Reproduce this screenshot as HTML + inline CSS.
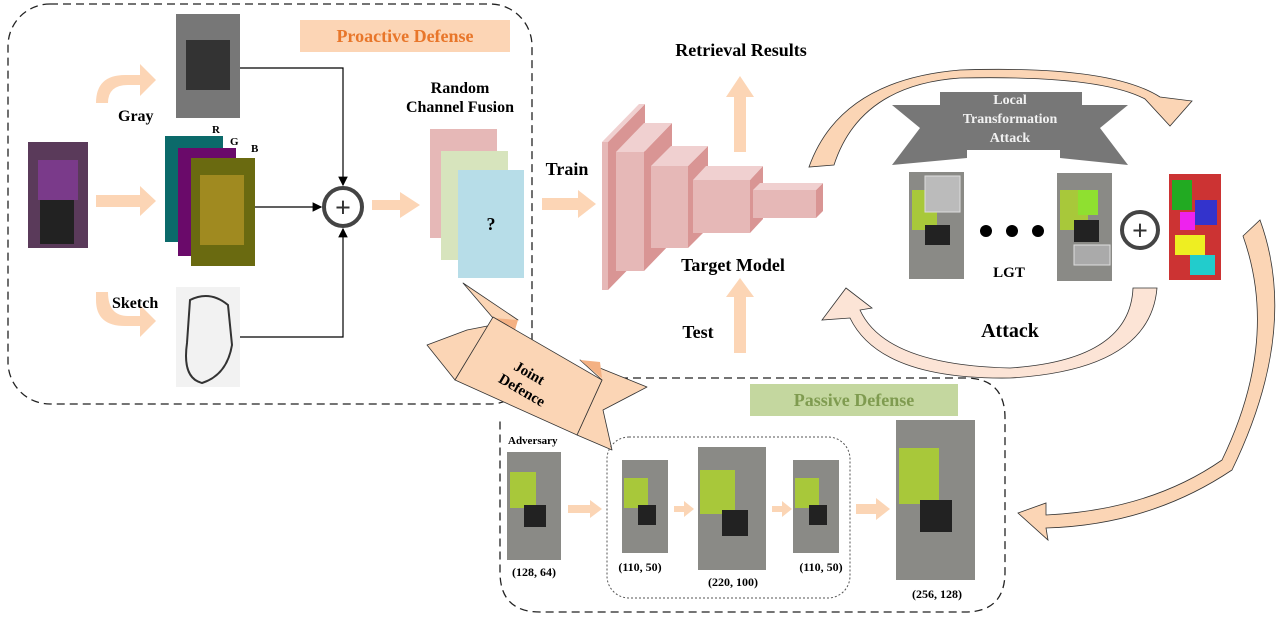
<!DOCTYPE html>
<html><head><meta charset="utf-8"><style>
body{margin:0;background:#fff}
svg{display:block}
text{font-family:"Liberation Serif",serif;font-weight:bold}
</style></head><body>
<svg width="1285" height="618" viewBox="0 0 1285 618" xmlns="http://www.w3.org/2000/svg">
<defs>
<marker id="ah" markerWidth="8" markerHeight="8" refX="7" refY="4" orient="auto"><path d="M0,0 L8,4 L0,8z" fill="#000"/></marker>
</defs>
<rect x="8" y="4" width="524" height="400" rx="42" fill="none" stroke="#222" stroke-width="1.3" stroke-dasharray="8,5"/>
<path d="M620,378 L965,378 Q1005,378 1005,418 L1005,572 Q1005,612 965,612 L540,612 Q500,612 500,572 L500,420" fill="none" stroke="#222" stroke-width="1.3" stroke-dasharray="8,5"/>
<rect x="300" y="20" width="210" height="32" fill="#fcd5b5"/>
<text x="405" y="42" font-size="18" fill="#e8762a" text-anchor="middle">Proactive Defense</text>
<rect x="750" y="384" width="208" height="32" fill="#c4d79f"/>
<text x="854" y="406" font-size="18" fill="#7f9b50" text-anchor="middle">Passive Defense</text>

<rect x="28" y="142" width="60" height="106" fill="#5a3a5a"/><rect x="38" y="160" width="40" height="40" fill="#7a3a8a"/><rect x="40" y="200" width="34" height="44" fill="#222"/>
<rect x="176" y="14" width="64" height="104" fill="#777"/><rect x="186" y="40" width="44" height="50" fill="#333"/>
<rect x="165" y="136" width="58" height="106" fill="#0b6a6a"/>
<rect x="178" y="148" width="58" height="108" fill="#6a0a6a"/>
<rect x="191" y="158" width="64" height="108" fill="#6a6a10"/><rect x="200" y="175" width="44" height="70" fill="#a08a20"/>
<text x="212" y="133" font-size="11">R</text><text x="230" y="145" font-size="11">G</text><text x="251" y="152" font-size="11">B</text>
<rect x="176" y="287" width="64" height="100" fill="#f2f2f2"/><path d="M190,300 q20,-10 38,5 l4,40 q-5,30 -30,38 q-20,-5 -15,-40z" fill="none" stroke="#333" stroke-width="2"/>
<path d="M96,103 Q96,75 125,75 L140,75 L140,64 L156,80 L140,96 L140,85 L128,85 Q108,85 108,103z" fill="#fcd5b5"/>
<text x="118" y="121" font-size="16">Gray</text>
<path d="M96,195 L140,195 L140,186 L156,201 L140,216 L140,207 L96,207z" fill="#fcd5b5"/>
<path d="M96,292 L108,292 Q108,316 128,316 L140,316 L140,305 L156,321 L140,337 L140,326 L125,326 Q96,326 96,300z" fill="#fcd5b5"/>
<text x="112" y="308" font-size="16">Sketch</text>
<path d="M240,68 L343,68 L343,185" fill="none" stroke="#000" stroke-width="1.2" marker-end="url(#ah)"/>
<path d="M255,207 L321,207" fill="none" stroke="#000" stroke-width="1.2" marker-end="url(#ah)"/>
<path d="M240,337 L343,337 L343,229" fill="none" stroke="#000" stroke-width="1.2" marker-end="url(#ah)"/>
<circle cx="343" cy="207" r="19" fill="#fff" stroke="#444" stroke-width="4"/>
<text x="343" y="217" font-size="28" text-anchor="middle" font-family="Liberation Sans" fill="#333">+</text>
<path d="M372,200 L400,200 L400,192 L420,205 L400,218 L400,210 L372,210z" fill="#fcd5b5"/>
<text x="460" y="93" font-size="16" text-anchor="middle">Random</text>
<text x="460" y="112" font-size="16" text-anchor="middle">Channel Fusion</text>
<rect x="430" y="129" width="67" height="109" fill="#e6b8b7"/>
<rect x="441" y="151" width="67" height="109" fill="#d7e4bd"/>
<rect x="458" y="170" width="66" height="108" fill="#b7dde8"/>
<text x="491" y="230" font-size="18" text-anchor="middle">?</text>
<text x="567" y="175" font-size="18" text-anchor="middle">Train</text>
<path d="M542,198 L578,198 L578,190 L596,204 L578,218 L578,210 L542,210z" fill="#fcd5b5"/>
<g stroke="none">
<polygon points="608,142 645,104 645,252 608,290" fill="#d99594"/><polygon points="602,142 608,142 645,104 639,104" fill="#f0d0d0"/><rect x="602" y="142" width="6" height="148" fill="#e6b8b7"/>
<polygon points="644,152 672,123 672,242 644,271" fill="#d99594"/><polygon points="616,152 644,152 672,123 644,123" fill="#f0d0d0"/><rect x="616" y="152" width="28" height="119" fill="#e6b8b7"/>
<polygon points="688,166 708,146 708,228 688,248" fill="#d99594"/><polygon points="651,166 688,166 708,146 671,146" fill="#f0d0d0"/><rect x="651" y="166" width="37" height="82" fill="#e6b8b7"/>
<polygon points="750,180 763,166 763,219 750,233" fill="#d99594"/><polygon points="693,180 750,180 763,166 706,166" fill="#f0d0d0"/><rect x="693" y="180" width="57" height="53" fill="#e6b8b7"/>
<polygon points="816,190 823,183 823,211 816,218" fill="#d99594"/><polygon points="753,190 816,190 823,183 760,183" fill="#f0d0d0"/><rect x="753" y="190" width="63" height="28" fill="#e6b8b7"/>
</g>
<text x="741" y="56" font-size="18" text-anchor="middle">Retrieval Results</text>
<path d="M734,152 L734,97 L726,97 L740,76 L754,97 L746,97 L746,152z" fill="#fcd5b5"/>
<text x="733" y="271" font-size="18" text-anchor="middle">Target Model</text>
<path d="M734,353 L734,297 L726,297 L740,278 L754,297 L746,297 L746,353z" fill="#fcd5b5"/>
<text x="698" y="338" font-size="18" text-anchor="middle">Test</text>
<path d="M809,167 Q840,80 960,70 Q1110,65 1160,97 L1192,101 L1170,126 L1145,99 Q1100,75 960,78 Q860,85 834,165z" fill="#fbd5b5" stroke="#333" stroke-width="0.8"/>
<path d="M1133,288 L1157,288 Q1150,370 1010,378 Q880,380 850,318 L822,320 L846,288 L872,308 L860,310 Q885,365 1010,368 Q1130,360 1133,288z" fill="#fce4d6" stroke="#333" stroke-width="0.8"/>
<path d="M1243,236 L1260,220 Q1300,330 1232,470 Q1150,525 1046,528 L1048,540 L1018,513 L1046,503 L1046,515 Q1150,510 1222,460 Q1280,340 1243,236z" fill="#fbd5b5" stroke="#333" stroke-width="0.8"/>
<polygon points="892,105 940,105 940,92 1082,92 1082,105 1128,105 1100,128 1128,165 1060,158 1060,150 967,150 967,158 892,165 920,128" fill="#777"/>
<text x="1010" y="104" font-size="14" fill="#f2f2f2" text-anchor="middle">Local</text>
<text x="1010" y="123" font-size="14" fill="#f2f2f2" text-anchor="middle">Transformation</text>
<text x="1010" y="142" font-size="14" fill="#f2f2f2" text-anchor="middle">Attack</text>
<rect x="909" y="172" width="55" height="107" fill="#8a8a86"/><rect x="912" y="190" width="25" height="40" fill="#a8c83a"/><rect x="925" y="176" width="35" height="36" fill="#bbb" stroke="#ddd"/><rect x="925" y="225" width="25" height="20" fill="#222"/>
<rect x="1057" y="173" width="55" height="108" fill="#8a8a86"/><rect x="1060" y="190" width="28" height="40" fill="#a8c83a"/><rect x="1078" y="190" width="20" height="25" fill="#8fe030"/><rect x="1074" y="220" width="25" height="22" fill="#222"/><rect x="1074" y="245" width="36" height="20" fill="#aaa" stroke="#ddd"/>
<circle cx="986" cy="231" r="6"/><circle cx="1012" cy="231" r="6"/><circle cx="1038" cy="231" r="6"/>
<text x="1009" y="277" font-size="15" text-anchor="middle">LGT</text>
<circle cx="1140" cy="230" r="18" fill="#fff" stroke="#444" stroke-width="4"/>
<text x="1140" y="240" font-size="28" text-anchor="middle" font-family="Liberation Sans" fill="#333">+</text>
<rect x="1169" y="174" width="52" height="106" fill="#c33"/>
<rect x="1172" y="180" width="20" height="30" fill="#2a2"/><rect x="1195" y="200" width="22" height="25" fill="#33c"/><rect x="1175" y="235" width="30" height="20" fill="#ee2"/><rect x="1190" y="255" width="25" height="20" fill="#2cc"/><rect x="1180" y="212" width="15" height="18" fill="#e2e"/>
<text x="1010" y="337" font-size="20" text-anchor="middle">Attack</text>
<!-- Joint defence ribbon -->
<polygon points="463,283 518,320 467,330 427,345 455,380 493,318" fill="#fbd5b5" stroke="#333" stroke-width="0.8" stroke-linejoin="round"/>
<polygon points="580,360 647,387 603,410 612,450 577,435 602,380" fill="#fbd5b5" stroke="#333" stroke-width="0.8" stroke-linejoin="round"/>
<polygon points="493,318 518,320 515,330" fill="#f4b183"/>
<polygon points="580,360 600,362 602,378" fill="#f4b183"/>
<polygon points="493,317 602,380 577,435 455,380" fill="#fbd5b5" stroke="#333" stroke-width="0.8"/>
<text x="530" y="378" font-size="15" text-anchor="middle" transform="rotate(30 530 372)">Joint</text>
<text x="522" y="395" font-size="15" text-anchor="middle" transform="rotate(30 522 390)">Defence</text>
<text x="508" y="444" font-size="11">Adversary</text>
<rect x="507" y="452" width="54" height="108" fill="#8a8a86"/><rect x="510" y="472" width="26" height="36" fill="#a8c83a"/><rect x="524" y="505" width="22" height="22" fill="#222"/>
<text x="534" y="576" font-size="12" text-anchor="middle">(128, 64)</text>
<rect x="607" y="437" width="243" height="161" rx="22" fill="none" stroke="#555" stroke-dasharray="2,2"/>
<path d="M568,505 L590,505 L590,500 L602,509 L590,518 L590,513 L568,513z" fill="#fbd5b5"/>
<rect x="622" y="460" width="46" height="93" fill="#8a8a86"/><rect x="624" y="478" width="24" height="30" fill="#a8c83a"/><rect x="638" y="505" width="18" height="20" fill="#222"/>
<text x="640" y="571" font-size="12" text-anchor="middle">(110, 50)</text>
<path d="M674,506 L684,506 L684,501 L694,509 L684,517 L684,512 L674,512z" fill="#fbd5b5"/>
<rect x="698" y="447" width="68" height="123" fill="#8a8a86"/><rect x="700" y="470" width="35" height="44" fill="#a8c83a"/><rect x="722" y="510" width="26" height="26" fill="#222"/>
<text x="733" y="586" font-size="12" text-anchor="middle">(220, 100)</text>
<path d="M772,506 L782,506 L782,501 L792,509 L782,517 L782,512 L772,512z" fill="#fbd5b5"/>
<rect x="793" y="460" width="46" height="93" fill="#8a8a86"/><rect x="795" y="478" width="24" height="30" fill="#a8c83a"/><rect x="809" y="505" width="18" height="20" fill="#222"/>
<text x="821" y="571" font-size="12" text-anchor="middle">(110, 50)</text>
<path d="M856,504 L876,504 L876,498 L890,509 L876,520 L876,514 L856,514z" fill="#fbd5b5"/>
<rect x="896" y="420" width="79" height="160" fill="#8a8a86"/><rect x="899" y="448" width="40" height="56" fill="#a8c83a"/><rect x="920" y="500" width="32" height="32" fill="#222"/>
<text x="937" y="598" font-size="12" text-anchor="middle">(256, 128)</text>
</svg>
</body></html>
